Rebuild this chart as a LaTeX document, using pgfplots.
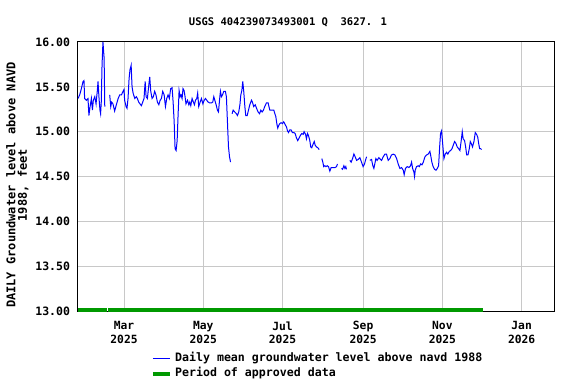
\documentclass[border=0pt]{standalone}
\usepackage{fontspec}
\setmainfont{DejaVu Sans Mono}
\usepackage{pgfplots}
\pgfplotsset{compat=1.18}
\definecolor{usgsblue}{RGB}{0,0,255}
\definecolor{usgsgreen}{RGB}{0,153,0}
\definecolor{gridgray}{RGB}{200,200,200}
\begin{document}
\begin{tikzpicture}
\begin{axis}[
  scale only axis, width=476bp, height=269bp,
  xmin=23.6, xmax=389.9, ymin=13, ymax=16,
  clip=false,
  unbounded coords=jump,
  xtick={59,120,181,243,304,365},
  xticklabels={{Mar\\2025},{May\\2025},{Jul\\2025},{Sep\\2025},{Nov\\2025},{Jan\\2026}},
  ytick={13,13.5,14,14.5,15,15.5,16},
  major tick length=0pt,
  grid=major,
  major grid style={gridgray, line width=1bp},
  axis line style={black, line width=1bp},
  xticklabel style={align=center, font=\fontsize{11.3bp}{13.3bp}\selectfont\bfseries, yshift=-7bp},
  yticklabel style={font=\fontsize{11.5bp}{13bp}\selectfont\bfseries, xshift=-4.5bp,
    /pgf/number format/.cd, fixed, fixed zerofill, precision=2, assume math mode=true},
  title={USGS 404239073493001 Q\ \ 3627. 1},
  title style={at={(axis description cs:0.4412,1)}, anchor=center, yshift=14bp,
    font=\fontsize{10.5bp}{12bp}\selectfont\bfseries},
  ylabel={DAILY Groundwater level above NAVD\\1988, feet},
  ylabel style={at={(axis description cs:-0.1275,0.468)}, anchor=center, align=center,
    font=\fontsize{12bp}{11.5bp}\selectfont\bfseries},
  legend style={at={(axis description cs:0.153,-0.155)}, anchor=north west, draw=none, fill=none,
    inner sep=0pt, row sep=4.3bp, font=\fontsize{11.6bp}{13bp}\selectfont\bfseries,
    nodes={inner sep=0pt, text height=8.5bp, text depth=2.5bp},
    /tikz/every odd column/.append style={column sep=3bp}},
  legend cell align=left,
  legend image code/.code={\draw[#1] (0bp,0bp) -- (17.4bp,0bp);},
]
\addplot[usgsblue, line width=1bp] coordinates {
(23.6,15.37) (24.9,15.41) (26.2,15.48) (27.5,15.56) (28.2,15.57) (28.7,15.37) (30.0,15.35) (31.3,15.37)
(32.0,15.18) (32.9,15.28) (33.9,15.37) (34.7,15.24) (35.4,15.35) (36.5,15.39) (37.5,15.31) (38.0,15.39)
(38.5,15.46) (39.0,15.56) (39.8,15.37) (40.5,15.24) (41.0,15.20) (41.5,15.33) (42.1,15.74) (42.8,16.00)
(43.7,15.82) (44.2,15.28)
(46.0,nan)
(48.0,15.41) (48.8,15.28) (49.5,15.33) (50.5,15.31) (51.8,15.23) (53.1,15.30) (54.5,15.37) (55.7,15.41)
(57.0,15.41) (58.3,15.45) (59.0,15.47) (59.5,15.35) (60.6,15.28) (61.3,15.26) (62.1,15.37) (62.9,15.59)
(63.6,15.69) (64.5,15.74) (65.2,15.50) (66.0,15.43) (67.3,15.37) (68.5,15.39) (69.3,15.37) (70.3,15.33)
(71.3,15.31) (72.4,15.29) (73.4,15.33) (74.4,15.37) (75.3,15.56) (76.0,15.39) (77.0,15.37) (78.1,15.52)
(78.8,15.61) (79.6,15.45) (80.6,15.37) (81.6,15.39) (82.6,15.45) (83.6,15.41) (84.7,15.33) (85.8,15.30)
(86.8,15.35) (87.8,15.37) (88.8,15.45) (89.9,15.41) (90.9,15.28) (91.9,15.37) (92.9,15.41) (93.9,15.37)
(94.9,15.48) (96.0,15.49) (96.8,15.33) (97.6,15.11) (98.3,14.81) (99.1,14.79) (99.9,14.90) (100.6,15.18)
(101.4,15.46) (102.2,15.39) (102.9,15.41) (103.7,15.37) (104.4,15.48) (105.2,15.46) (106.0,15.39) (106.7,15.31)
(107.9,15.35) (108.9,15.30) (109.6,15.33) (110.4,15.29) (111.4,15.37) (112.4,15.33) (113.2,15.30) (114.0,15.35)
(115.0,15.37) (115.7,15.43) (116.5,15.28) (117.6,15.33) (118.6,15.37) (119.7,15.31) (120.7,15.35) (121.7,15.37)
(122.7,15.35) (123.7,15.33) (125.0,15.32) (126.3,15.32) (127.3,15.33) (128.1,15.39) (128.9,15.35) (129.9,15.30)
(130.9,15.24) (131.7,15.22) (132.5,15.35) (133.2,15.45) (134.0,15.39) (134.8,15.41) (135.8,15.45) (137.0,15.45)
(137.8,15.39) (138.6,15.11) (139.4,14.83) (140.2,14.72) (141.0,14.66)
(141.6,nan)
(142.2,15.20) (143.0,15.24) (144.2,15.22) (145.5,15.20) (146.3,15.18) (147.3,15.22) (148.2,15.30) (148.9,15.41)
(149.7,15.46) (150.4,15.56) (151.2,15.44) (152.0,15.28) (152.7,15.18) (153.8,15.18) (154.8,15.24) (155.8,15.30)
(157.1,15.35) (157.8,15.33) (158.8,15.28) (160.0,15.30) (161.0,15.26) (162.2,15.22) (163.3,15.20) (164.3,15.24)
(165.3,15.22) (166.3,15.24) (167.3,15.28) (168.6,15.32) (169.9,15.32) (171.2,15.24) (172.5,15.24) (174.3,15.24)
(175.1,15.20) (175.8,15.17) (176.6,15.09) (177.3,15.04) (178.1,15.07) (178.9,15.09) (179.9,15.10) (180.9,15.09)
(181.9,15.11) (183.0,15.08) (184.1,15.05) (184.8,15.01) (185.6,14.99) (186.6,15.02) (187.6,15.02) (188.6,14.99)
(189.7,14.99) (190.7,14.98) (191.7,14.93) (192.7,14.90) (193.8,14.93) (194.8,14.96) (195.9,14.98) (196.9,14.97)
(197.6,15.00) (198.7,14.97) (199.4,14.92) (200.2,14.98) (200.9,14.96) (202.0,14.90) (202.7,14.83) (203.5,14.82)
(204.2,14.85) (205.4,14.89) (206.1,14.85) (207.1,14.83) (208.2,14.82) (209.2,14.80)
(210.2,nan)
(211.2,14.70) (212.0,14.66) (212.7,14.61) (213.6,14.62) (214.4,14.61) (215.4,14.62) (216.4,14.61) (217.4,14.56)
(218.4,14.60) (219.5,14.60) (220.5,14.60) (221.5,14.60) (222.5,14.61) (223.3,14.64)
(224.8,nan)
(226.4,14.59) (227.2,14.58) (228.2,14.62) (229.0,14.59) (229.7,14.61) (230.2,14.58)
(231.5,nan)
(232.8,14.68) (233.8,14.66) (234.9,14.70) (235.9,14.75) (236.9,14.72) (238.0,14.68) (239.2,14.69) (240.5,14.71)
(241.8,14.66) (243.0,14.61) (244.1,14.64) (244.8,14.68) (245.7,14.72)
(247.0,nan)
(248.2,14.68) (249.5,14.69) (250.5,14.62) (251.3,14.59) (252.0,14.64) (252.8,14.70) (253.8,14.68) (255.1,14.71)
(257.2,14.68) (258.5,14.72) (259.8,14.75) (261.0,14.75) (262.3,14.68) (263.6,14.70) (264.8,14.74) (266.2,14.75)
(267.5,14.74) (268.8,14.70) (270.0,14.64) (271.3,14.59) (272.6,14.60) (273.9,14.57) (274.6,14.52) (275.6,14.59)
(277.0,14.61) (278.3,14.60) (279.5,14.62) (280.3,14.66) (281.1,14.59) (282.1,14.55) (282.6,14.50) (283.1,14.57)
(284.1,14.61) (285.4,14.62) (286.2,14.61) (287.3,14.64) (288.3,14.63) (289.3,14.66) (290.6,14.72) (291.8,14.74)
(293.1,14.75) (294.4,14.78) (295.2,14.72) (295.9,14.66) (296.9,14.61) (298.0,14.58) (299.1,14.57) (300.1,14.59)
(301.1,14.62) (301.9,14.83) (302.6,14.98) (303.4,15.01) (304.2,14.87) (305.2,14.70) (306.2,14.75) (307.2,14.77)
(308.2,14.75) (309.3,14.78) (310.4,14.79) (311.4,14.81) (312.4,14.85) (313.4,14.89) (314.4,14.87) (315.4,14.83)
(316.5,14.81) (317.5,14.79) (318.5,14.90) (319.3,15.00) (320.0,14.92) (321.1,14.90) (321.9,14.83) (322.7,14.74)
(323.7,14.74) (324.7,14.81) (325.5,14.89) (326.2,14.87) (327.2,14.83) (328.3,14.89) (329.3,14.99) (330.3,14.97)
(331.2,14.94) (331.9,14.87) (332.7,14.81) (333.5,14.81) (334.2,14.80)
};
\addlegendentry{Daily mean groundwater level above navd 1988}
\addplot[usgsgreen, line width=3.7bp] coordinates {(23.6,13.01) (46.0,13.01)};
\addlegendentry{Period of approved data}
\addplot[usgsgreen, line width=3.7bp, forget plot] coordinates {(46.8,13.01) (335.0,13.01)};
\end{axis}
\pgfresetboundingbox
\path (current axis.south west) ++(-78bp,-73bp) rectangle ++(576bp,384bp);
\end{tikzpicture}
\end{document}
